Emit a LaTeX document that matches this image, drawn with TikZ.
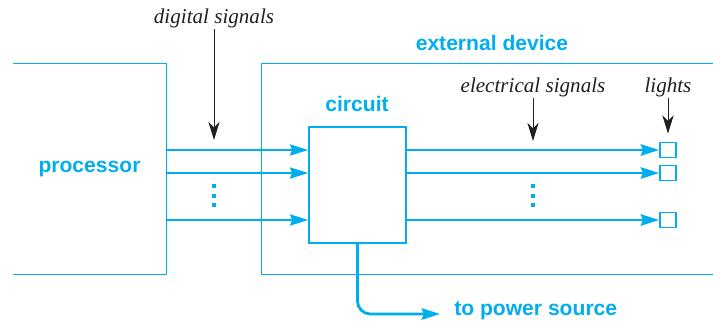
\documentclass[tikz,border=0pt]{standalone}
\usepackage{fontspec}
\setmainfont{Liberation Serif}
\setsansfont{Liberation Sans}
\usetikzlibrary{arrows.meta}
\definecolor{devblue}{HTML}{00AEEF}
\definecolor{notegray}{HTML}{231F20}
\tikzset{
  wire/.style={devblue, line width=1.1pt},
  bus/.style={devblue, line width=2pt},
  tag/.style={font=\sffamily\bfseries\fontsize{15}{17}\selectfont, text=devblue, inner sep=0pt},
  note/.style={font=\itshape\fontsize{15}{17}\selectfont, text=notegray, inner sep=1pt},
  pointer/.style={notegray, line width=0.7pt, -{Stealth[length=13pt,width=8pt,inset=4pt]}},
  tip/.style={-{Stealth[length=13pt,width=8pt,inset=1.5pt]}},
  lamp/.style={draw=devblue, line width=1.2pt, minimum width=0.4cm, minimum height=0.375cm, inner sep=0pt}
}
\begin{document}
\begin{tikzpicture}[x=0.025cm,y=-0.025cm]
\useasboundingbox (0,0) rectangle (713,322);
% boxes
\node[tag, minimum width=3.825cm, minimum height=5.25cm] (proc) at (89.5,169) {processor};
\draw[wire] (proc.north west) -- (proc.north east) -- (proc.south east) -- (proc.south west);
\node[minimum width=11.275cm, minimum height=5.25cm] (ext) at (487.5,169) {};
\draw[wire] (ext.north east) -- (ext.north west) -- (ext.south west) -- (ext.south east);
\node[tag] (extlabel) at (492,43) {external device};
\node[wire, draw, minimum width=2.425cm, minimum height=2.9cm] (circuit) at (357.5,185) {};
\node[tag] (circlabel) at (357,104) {circuit};
% lights
\node[lamp] (lamp1) at (668,150) {};
\node[lamp] (lamp2) at (668,173) {};
\node[lamp] (lamp3) at (668,220) {};
% signal lines
\foreach \n in {1,2,3} {
  \draw[wire, tip] (proc.east |- lamp\n) -- (circuit.west |- lamp\n);
  \draw[bus, tip] (circuit.east |- lamp\n) -- (lamp\n.west);
}
\foreach \y in {184,194,203} {
  \fill[devblue] (212,\y) rectangle +(4,4);
  \fill[devblue] (531,\y) rectangle +(4,4);
}
% labels with pointers
\node[note] (digital) at (214,18) {digital signals};
\coordinate (digitalend) at (214,140);
\draw[pointer] (digital.south) -- (digitalend);
\node[note] (electrical) at (533,87) {electrical signals};
\coordinate (electricalend) at (533,141);
\draw[pointer] (electrical.south) -- (electricalend);
\node[note] (lights) at (668,87) {lights};
\draw[pointer] (lights.south) -- ([yshift=0.2cm]lamp1.north);
% power
\node[tag, anchor=west] (power) at (454,311) {to power source};
\coordinate (powerend) at (440,314);
\draw[bus, tip, rounded corners=0.32cm] (circuit.south) |- (powerend);
\end{tikzpicture}
\end{document}
